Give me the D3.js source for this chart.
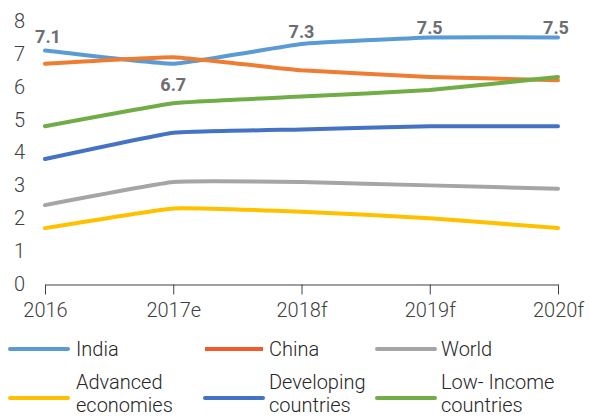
<!DOCTYPE html>
<html>
<head>
<meta charset="utf-8">
<script src="https://cdn.jsdelivr.net/npm/d3@7"></script>
<style>
  html, body { margin: 0; padding: 0; background: #fff; }
  svg { display: block; }
  text { font-family: Roboto, "Liberation Sans", Arial, sans-serif; }
</style>
</head>
<body>
<svg id="chart" width="589" height="418"></svg>
<script>
const categories = ["2016", "2017e", "2018f", "2019f", "2020f"];
const yTicks = [0, 1, 2, 3, 4, 5, 6, 7, 8];

const seriesNames = ["India", "China", "World", "Advanced economies", "Developing countries", "Low- Income countries"];
const india      = [7.1, 6.7, 7.3, 7.5, 7.5];
const china      = [6.7, 6.9, 6.5, 6.3, 6.2];
const world      = [2.4, 3.1, 3.1, 3.0, 2.9];
const advanced   = [1.7, 2.3, 2.2, 2.0, 1.7];
const developing = [3.8, 4.6, 4.7, 4.8, 4.8];
const lowIncome  = [4.8, 5.5, 5.7, 5.9, 6.3];
const indiaLabels = ["7.1", "6.7", "7.3", "7.5", "7.5"];

const colors = ["#5B9BD5", "#ED7D31", "#A5A5A5", "#FFC000", "#4472C4", "#70AD47"];
const legendColors = ["#5B9BD5", "#F15A2B", "#A5A5A5", "#FFC000", "#4472C4", "#70AD47"];
const seriesValues = [india, china, world, advanced, developing, lowIncome];

const svg = d3.select("#chart");
const x = d3.scalePoint().domain(categories).range([45, 558]);
const y = d3.scaleLinear().domain([0, 8]).range([284, 21]);

// Y tick labels (no axis line)
const yAxis = d3.axisLeft(y).tickValues(yTicks).tickSize(0).tickPadding(0).tickFormat(d3.format("d"));
const yg = svg.append("g").attr("transform", "translate(25,0)").call(yAxis);
yg.select(".domain").remove();
yg.selectAll("text")
  .attr("font-size", 20).attr("font-weight", 300).attr("fill", "#404040")
  .style("font-family", "Roboto, 'Liberation Sans', sans-serif");

// X axis
const xAxis = d3.axisBottom(x).tickSize(10).tickPadding(8).tickSizeOuter(0);
const xg = svg.append("g").attr("transform", "translate(0,284.5)").call(xAxis);
xg.select(".domain").attr("stroke", "#404040").attr("stroke-width", 1);
xg.selectAll(".tick line").attr("stroke", "#404040").attr("stroke-width", 1);
xg.selectAll("text")
  .attr("font-size", 20).attr("font-weight", 300).attr("fill", "#404040")
  .style("font-family", "Roboto, 'Liberation Sans', sans-serif");

// Lines
const line = d3.line()
  .x((d, i) => x(categories[i]))
  .y(d => y(d))
  .curve(d3.curveCardinal.tension(0.7));

seriesValues.forEach((vals, k) => {
  svg.append("path")
    .datum(vals)
    .attr("d", line)
    .attr("fill", "none")
    .attr("stroke", colors[k])
    .attr("stroke-width", 4)
    .attr("stroke-linecap", "round")
    .attr("stroke-linejoin", "round");
});

// India data labels
const labelOffsets = [-14, 21, -12, -10, -10];
svg.selectAll("text.dlabel")
  .data(indiaLabels)
  .enter().append("text")
  .attr("class", "dlabel")
  .attr("x", (d, i) => x(categories[i]) + (i === 0 ? 3 : (i === 4 ? -2 : 0)))
  .attr("y", (d, i) => y(india[i]) + labelOffsets[i])
  .attr("dy", "0.35em")
  .attr("text-anchor", "middle")
  .attr("font-size", 18)
  .attr("font-weight", 700)
  .attr("fill", "#6D6E71")
  .text(d => d);

// Legend
const legendSwatchX = [10, 205, 377];
const legendTextX = [76, 269, 441];
const legendRowY = [349, 398];
seriesNames.forEach((name, k) => {
  const col = k % 3, row = Math.floor(k / 3);
  const ly = legendRowY[row];
  svg.append("line")
    .attr("x1", legendSwatchX[col]).attr("x2", legendSwatchX[col] + 58)
    .attr("y1", ly).attr("y2", ly)
    .attr("stroke", legendColors[k]).attr("stroke-width", 4)
    .attr("stroke-linecap", k === 1 ? "butt" : "round");
  const words = row === 0 ? [name] :
    (k === 3 ? ["Advanced", "economies"] : k === 4 ? ["Developing", "countries"] : ["Low- Income", "countries"]);
  const t = svg.append("text")
    .attr("x", legendTextX[col])
    .attr("font-size", 20).attr("font-weight", 300).attr("fill", "#262626");
  if (words.length === 1) {
    t.attr("y", ly).attr("dy", "0.35em").text(words[0]);
  } else {
    words.forEach((w, j) => {
      t.append("tspan").attr("x", legendTextX[col]).attr("y", j === 0 ? 389 : 412).text(w);
    });
  }
});
</script>
</body>
</html>
